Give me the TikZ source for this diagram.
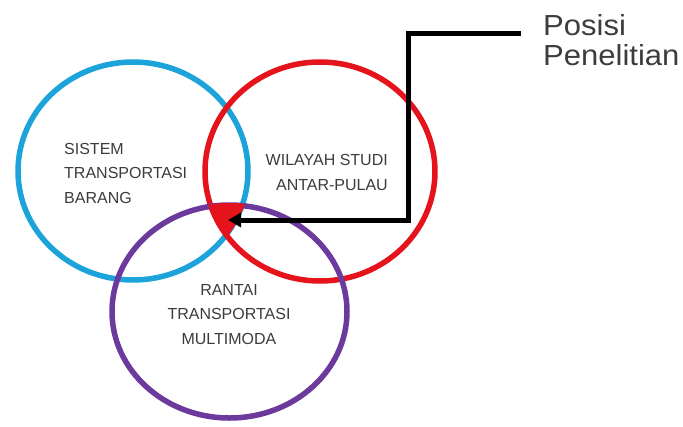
\documentclass[tikz,border=0pt]{standalone}
\usepackage{fontspec}
\setmainfont{Liberation Sans}
\usetikzlibrary{arrows.meta}
\definecolor{bluec}{HTML}{1BA3DA}
\definecolor{redc}{HTML}{E5141C}
\definecolor{purplec}{HTML}{6B3A9C}
\definecolor{txtc}{HTML}{3C3C3C}
\tikzset{
  ring/.style={line width=5.5pt},
  lbl/.style={text=txtc, font=\fontsize{16}{24.5}\selectfont, inner sep=0pt},
  pointer/.style={line width=5pt, -{Triangle[length=13pt,width=14pt]}},
}
\begin{document}
\begin{tikzpicture}[x=1pt,y=-1pt]
\useasboundingbox[fill=white] (0,0) rectangle (683,426);
% circles
\draw[ring, bluec] (133,171) ellipse [x radius=115pt, y radius=109pt];
\draw[ring, redc] (320,171.5) ellipse [x radius=115pt, y radius=109.5pt];
\draw[ring, purplec] (229.5,311.5) ellipse [x radius=117.5pt, y radius=106.5pt];
% common region
\begin{scope}
  \clip (133,171) ellipse [x radius=117pt, y radius=111pt];
  \clip (320,171.5) ellipse [x radius=117pt, y radius=111.5pt];
  \fill[redc] (229.5,311.5) ellipse [x radius=119.5pt, y radius=108.5pt];
\end{scope}
% labels
\node[lbl, align=left, anchor=west] (sistem) at (64,173) {SISTEM\\TRANSPORTASI\\BARANG};
\node[lbl, align=right, anchor=east] (wilayah) at (388,172.5) {WILAYAH STUDI\\ANTAR-PULAU};
\node[lbl, align=center] (rantai) at (229,314.5) {RANTAI\\TRANSPORTASI\\MULTIMODA};
\node[text=txtc, font=\fontsize{29}{30}\selectfont, inner sep=0pt, align=left, anchor=north west, xscale=1.07] (posisi) at (543,14) {Posisi\\Penelitian};
% pointer
\coordinate (start) at (521,33);
\coordinate (bend) at (408,33);
\coordinate (tip) at (228,220);
\draw[pointer] (start) -- (bend) |- (tip);
\end{tikzpicture}
\end{document}
